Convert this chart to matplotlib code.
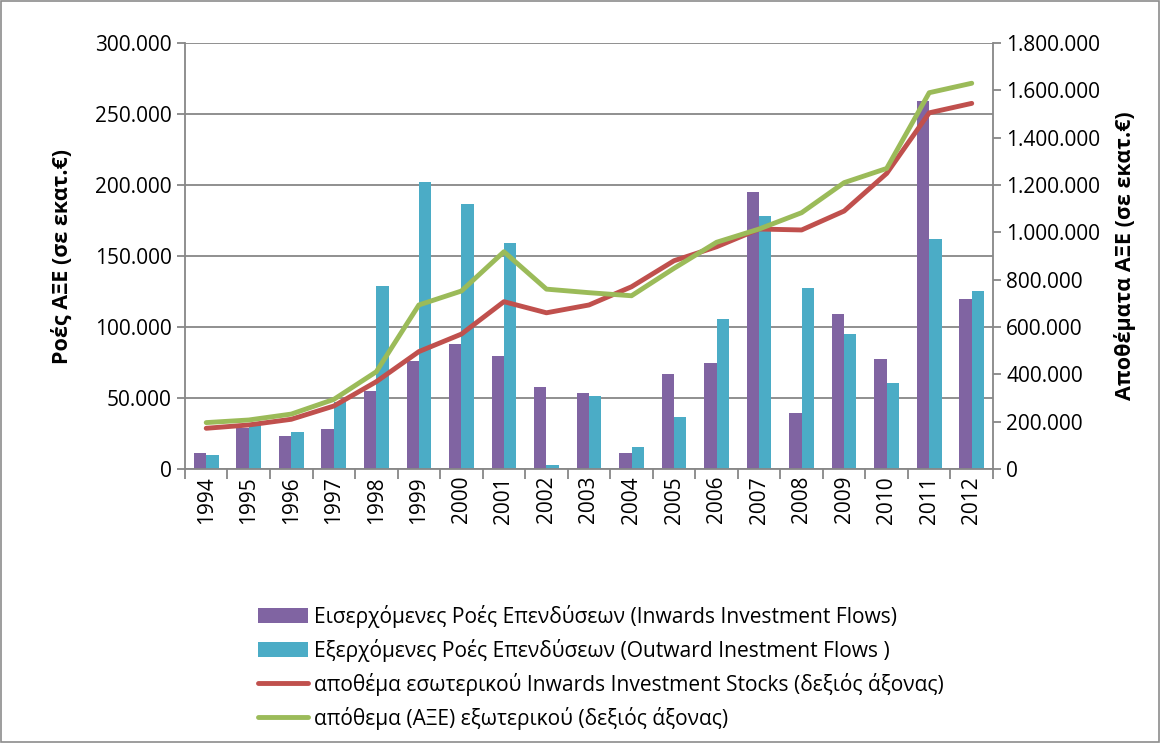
import matplotlib.pyplot as plt
import matplotlib.ticker as mticker
from matplotlib.patches import Rectangle
import numpy as np

plt.rcParams['font.family'] = ['Open Sans', 'DejaVu Sans']

years = [str(y) for y in range(1994, 2013)]
inward_flows = [11500, 28700, 23500, 28000, 55000, 76000, 88300, 79800, 57700, 53300,
                11500, 67100, 74600, 195000, 39200, 109000, 77700, 259400, 119700]
outward_flows = [9500, 31000, 25800, 47400, 128700, 202000, 186600, 159000, 2600, 51400,
                 15700, 36600, 105600, 178400, 127500, 95300, 60600, 162200, 125400]
inward_stocks = [172000, 186000, 210000, 266000, 369000, 496000, 570000, 707000, 660000, 693000,
                 770000, 880000, 939000, 1014000, 1010000, 1090000, 1249000, 1505000, 1545000]
outward_stocks = [196000, 207000, 232000, 294000, 411000, 693000, 752000, 918000, 760000, 745000,
                  732000, 848000, 958000, 1014000, 1083000, 1210000, 1270000, 1590000, 1630000]

labels = ['Εισερχόμενες Ροές Επενδύσεων (Inwards Investment Flows)',
          'Εξερχόμενες Ροές Επενδύσεων (Outward Inestment Flows )',
          'αποθέμα εσωτερικού Inwards Investment Stocks (δεξιός άξονας)',
          'απόθεμα (ΑΞΕ) εξωτερικού (δεξιός άξονας)']

purple = '#8064A2'
blue = '#4BACC6'
red = '#C0504D'
green = '#9BBB59'
gridc = '#878787'


def dotfmt(v, pos):
    return f'{int(round(v)):,}'.replace(',', '.')


fig = plt.figure(figsize=(11.61, 7.43), dpi=100)
ax = fig.add_axes([0.1593, 0.3688, 0.6960, 0.5733])
ax2 = ax.twinx()

x = np.arange(len(years))
w = 0.29
b1 = ax.bar(x - w / 2, inward_flows, w, color=purple, zorder=2, label=labels[0])
b2 = ax.bar(x + w / 2, outward_flows, w, color=blue, zorder=2, label=labels[1])
l1, = ax2.plot(x, inward_stocks, color=red, lw=3.5, solid_capstyle='round', label=labels[2])
l2, = ax2.plot(x, outward_stocks, color=green, lw=3.5, solid_capstyle='round', label=labels[3])

ax.set_xlim(-0.5, len(years) - 0.5)
ax.set_ylim(0, 300000)
ax2.set_ylim(0, 1800000)
ax.yaxis.set_major_locator(mticker.MultipleLocator(50000))
ax2.yaxis.set_major_locator(mticker.MultipleLocator(200000))
ax.yaxis.set_major_formatter(mticker.FuncFormatter(dotfmt))
ax2.yaxis.set_major_formatter(mticker.FuncFormatter(dotfmt))
ax.grid(axis='y', color=gridc, lw=1.3, zorder=0)
ax.set_axisbelow(True)

ax.set_xticks(np.arange(-0.5, len(years), 1.0))
ax.set_xticklabels([])
ax.set_xticks(x, minor=True)
ax.set_xticklabels(years, minor=True, rotation=90, fontsize=15)
ax.tick_params(axis='x', which='major', length=7, width=1.3, color=gridc, direction='out')
ax.tick_params(axis='x', which='minor', length=0, pad=5)
ax.tick_params(axis='y', length=6, width=1.3, color=gridc, labelsize=15)
ax2.tick_params(axis='y', length=6, width=1.3, color=gridc, labelsize=15)

for a in (ax, ax2):
    for s in a.spines.values():
        s.set_visible(False)
ax.spines['left'].set_visible(True)
ax.spines['left'].set_color(gridc)
ax.spines['left'].set_linewidth(1.3)
ax.spines['bottom'].set_visible(True)
ax.spines['bottom'].set_color(gridc)
ax.spines['bottom'].set_linewidth(1.3)
ax2.spines['right'].set_visible(True)
ax2.spines['right'].set_color(gridc)
ax2.spines['right'].set_linewidth(1.3)

ax.set_ylabel('Ροές ΑΞΕ (σε εκατ.€)', fontsize=15.5, fontweight='bold', labelpad=16)
ax2.set_ylabel('Αποθέματα ΑΞΕ (σε εκατ.€)', fontsize=15.5, fontweight='bold', labelpad=10)

fig.legend(handles=[b1, b2, l1, l2], loc='upper left', bbox_to_anchor=(0.2147, 0.197),
           frameon=False, fontsize=15.1, handlelength=2.4, handletextpad=0.28,
           labelspacing=0.52, borderaxespad=0)

fig.patches.append(Rectangle((0.001, 0.001), 0.997, 0.997, transform=fig.transFigure,
                             fill=False, edgecolor='#8c8c8c', lw=1.2))

fig.savefig('out.png', dpi=100)
